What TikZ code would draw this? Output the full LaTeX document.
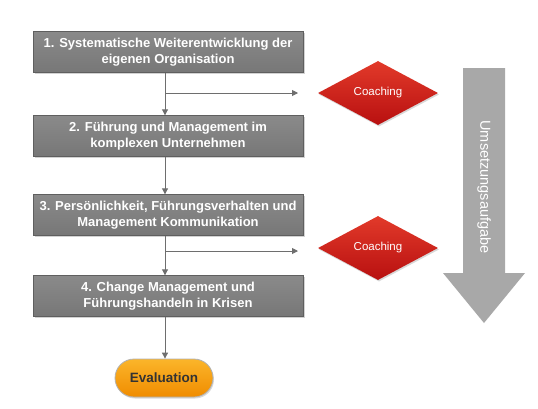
\documentclass[tikz,border=0pt]{standalone}
\usepackage{fontspec}
\setmainfont{Liberation Sans}
\usetikzlibrary{shapes.geometric,shapes.misc,arrows.meta,shadows}
\definecolor{boxgray}{HTML}{777777}
\definecolor{boxgraytop}{HTML}{8A8A8A}
\definecolor{linegray}{HTML}{6E6E6E}
\definecolor{redtop}{HTML}{E23A2A}
\definecolor{redbot}{HTML}{B81010}
\definecolor{orangetop}{HTML}{FBB52A}
\definecolor{orangebot}{HTML}{F08C00}
\definecolor{biggray}{HTML}{A8A8A8}
\tikzset{
  stepbox/.style={rectangle, minimum width=270pt, minimum height=41pt, inner sep=0pt,
    top color=boxgraytop, bottom color=boxgray, draw=boxgray!80!black, line width=0.4pt,
    drop shadow={shadow xshift=1.5pt, shadow yshift=-1.5pt, opacity=0.35},
    text=white, font=\bfseries\fontsize{13}{15.5}\selectfont, align=center},
  coach/.style={diamond, aspect=1.85, minimum width=120pt, minimum height=64pt, inner sep=0pt,
    top color=redtop, bottom color=redbot, draw=none,
    drop shadow={shadow xshift=1pt, shadow yshift=-1.5pt, opacity=0.3},
    text=white, font=\fontsize{11.5}{13}\selectfont},
  evalbox/.style={rounded rectangle, minimum width=98pt, minimum height=38pt, inner sep=0pt,
    top color=orangetop, bottom color=orangebot, draw=gray!60, line width=0.8pt,
    drop shadow={shadow xshift=1pt, shadow yshift=-1.5pt, opacity=0.3},
    text=black!80, font=\bfseries\fontsize{13.5}{15}\selectfont},
  conn/.style={draw=linegray, line width=0.9pt, -{Triangle[length=6pt,width=6pt]}}
}
\begin{document}
\begin{tikzpicture}[x=1pt,y=-1pt]
\useasboundingbox (0,0) rectangle (538,408);
\fill[white] (0,0) rectangle (538,408);

% big arrow
\fill[biggray] (463,68) -- (505,68) -- (505,273) -- (525,273) -- (484,323) -- (443,273) -- (463,273) -- cycle;
\node[rotate=-90, text=white, font=\fontsize{14.5}{16}\selectfont] (ua) at (484,187) {Umsetzungsaufgabe};

\node[stepbox] (b1) at (168,52) {1. Systematische Weiterentwicklung der\\eigenen Organisation};
\node[stepbox] (b2) at (168,136) {2. Führung und Management im\\komplexen Unternehmen};
\node[stepbox] (b3) at (168,215) {3. Persönlichkeit, Führungsverhalten und\\Management Kommunikation};
\node[stepbox] (b4) at (168,296) {4. Change Management und\\Führungshandeln in Krisen};
\node[evalbox] (ev) at (164,378) {Evaluation};

\node[coach] (c1) at (378,93) {Coaching};
\node[coach] (c2) at (378,248) {Coaching};

\coordinate (j1) at (165,93);
\coordinate (e1) at (298,93);
\coordinate (j2) at (165,251);
\coordinate (e2) at (298,251);

\draw[conn] (b1.south -| j1) -- (b2.north -| j1);
\draw[conn] (j1) -- (e1);
\draw[conn] (b2.south -| j1) -- (b3.north -| j1);
\draw[conn] (b3.south -| j2) -- (b4.north -| j2);
\draw[conn] (j2) -- (e2);
\draw[conn] (b4.south -| j2) -- (ev.north -| j2);
\end{tikzpicture}
\end{document}
